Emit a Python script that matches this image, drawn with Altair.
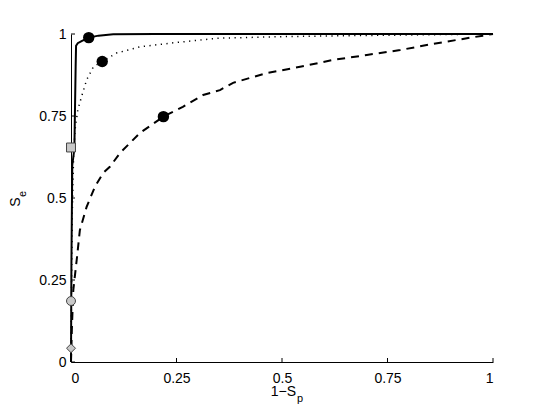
import altair as alt
import pandas as pd

# --- data ---
solid_x = [0, 0.001, 0.003, 0.008, 0.011, 0.012, 0.016, 0.025, 0.042, 0.065, 0.1, 0.2, 1.0]
solid_y = [0, 0.30, 0.60, 0.65, 0.90, 0.964, 0.972, 0.978, 0.989, 0.995, 0.999, 1.0, 1.0]

dotted_x = [0, 0.001, 0.003, 0.006, 0.0095, 0.016, 0.025, 0.037, 0.053, 0.074, 0.108, 0.164,
            0.242, 0.346, 0.5, 0.66, 0.8, 1.0]
dotted_y = [0, 0.20, 0.45, 0.62, 0.707, 0.768, 0.809, 0.86, 0.90, 0.916, 0.942, 0.961,
            0.973, 0.987, 0.992, 0.995, 0.997, 1.0]

dashed_x = [0, 0.002, 0.0055, 0.0135, 0.021, 0.037, 0.057, 0.076, 0.092, 0.116, 0.163, 0.219,
            0.265, 0.313, 0.353, 0.384, 0.464, 0.543, 0.621, 0.701, 0.78, 0.858, 0.938, 0.976, 1.0]
dashed_y = [0, 0.10, 0.22, 0.311, 0.402, 0.473, 0.535, 0.576, 0.595, 0.637, 0.698, 0.748,
            0.778, 0.814, 0.829, 0.851, 0.881, 0.90, 0.921, 0.936, 0.951, 0.97, 0.987, 0.995, 1.0]

dot_x = [0.042, 0.074, 0.219]
dot_y = [0.989, 0.916, 0.748]

gray_shape = ["square", "circle", "diamond"]
gray_x = [0, 0, 0]
gray_y = [0.654, 0.186, 0.042]

tick_vals = [0, 0.25, 0.5, 0.75, 1]

W, H = 422, 328
FONT = "Liberation Sans"

def line_df(xs, ys):
    return pd.DataFrame({"x": xs, "y": ys, "i": list(range(len(xs)))})

xscale = alt.Scale(domain=[0, 1], nice=False, zero=False)
yscale = alt.Scale(domain=[0, 1], nice=False, zero=False)

xaxis = alt.Axis(values=tick_vals, format=".2~f", title=None, ticks=False, grid=False,
                 domainColor="black", domainWidth=1, labelFont=FONT, labelFontSize=14,
                 labelColor="black", labelPadding=9)
yaxis = alt.Axis(values=tick_vals, format=".2~f", title=None, ticks=False, grid=False,
                 domainColor="black", domainWidth=1, labelFont=FONT, labelFontSize=14,
                 labelColor="black", labelPadding=5)

base_x = alt.X("x:Q", scale=xscale, axis=xaxis)
base_y = alt.Y("y:Q", scale=yscale, axis=yaxis)

solid = alt.Chart(line_df(solid_x, solid_y)).mark_line(
    color="black", strokeWidth=2).encode(x=base_x, y=base_y, order="i:Q")
dotted = alt.Chart(line_df(dotted_x, dotted_y)).mark_line(
    color="black", strokeWidth=1.5, strokeDash=[1.2, 4.5]).encode(
    x=alt.X("x:Q", scale=xscale), y=alt.Y("y:Q", scale=yscale), order="i:Q")
dashed = alt.Chart(line_df(dashed_x, dashed_y)).mark_line(
    color="black", strokeWidth=2, strokeDash=[8, 6]).encode(
    x=alt.X("x:Q", scale=xscale), y=alt.Y("y:Q", scale=yscale), order="i:Q")

dots = alt.Chart(pd.DataFrame({"x": dot_x, "y": dot_y})).mark_point(
    filled=True, color="black", size=130, opacity=1).encode(
    x=alt.X("x:Q", scale=xscale), y=alt.Y("y:Q", scale=yscale))

grays = alt.Chart(pd.DataFrame({"x": gray_x, "y": gray_y, "s": gray_shape})).mark_point(
    filled=True, fill="#c8c8c8", stroke="#444444", strokeWidth=1, size=80, opacity=1).encode(
    x=alt.X("x:Q", scale=xscale), y=alt.Y("y:Q", scale=yscale),
    shape=alt.Shape("s:N", scale=alt.Scale(domain=gray_shape, range=gray_shape), legend=None))

ticks_df = pd.DataFrame({"v": tick_vals})
xticks = alt.Chart(ticks_df).mark_rule(color="black", strokeWidth=1).encode(
    x=alt.X("v:Q", scale=xscale), y=alt.value(H), y2=alt.value(H - 4))
yticks = alt.Chart(ticks_df).mark_rule(color="black", strokeWidth=1).encode(
    y=alt.Y("v:Q", scale=yscale), x=alt.value(0), x2=alt.value(4))

txt = dict(font=FONT, color="black", fill="black")
xt_main = alt.Chart(pd.DataFrame({"t": ["1\u2212S"]})).mark_text(
    fontSize=14, align="right", baseline="alphabetic", **txt).encode(
    text="t:N", x=alt.value(225), y=alt.value(362))
xt_sub = alt.Chart(pd.DataFrame({"t": ["p"]})).mark_text(
    fontSize=11, align="left", baseline="alphabetic", **txt).encode(
    text="t:N", x=alt.value(226), y=alt.value(368))
yt_main = alt.Chart(pd.DataFrame({"t": ["S"]})).mark_text(
    fontSize=14, align="center", baseline="alphabetic", angle=270, **txt).encode(
    text="t:N", x=alt.value(-51), y=alt.value(168))
yt_sub = alt.Chart(pd.DataFrame({"t": ["e"]})).mark_text(
    fontSize=11, align="center", baseline="alphabetic", angle=270, **txt).encode(
    text="t:N", x=alt.value(-45), y=alt.value(160))

chart = alt.layer(
    dashed, dotted, solid, xticks, yticks, dots, grays, xt_main, xt_sub, yt_main, yt_sub
).properties(
    width=W, height=H,
    autosize=alt.AutoSizeParams(type="none"),
    padding={"left": 63, "top": 26, "right": 44, "bottom": 50},
    background="white",
).configure_view(stroke=None)

chart.save("out.html", embed_options={"renderer": "svg", "actions": False})
